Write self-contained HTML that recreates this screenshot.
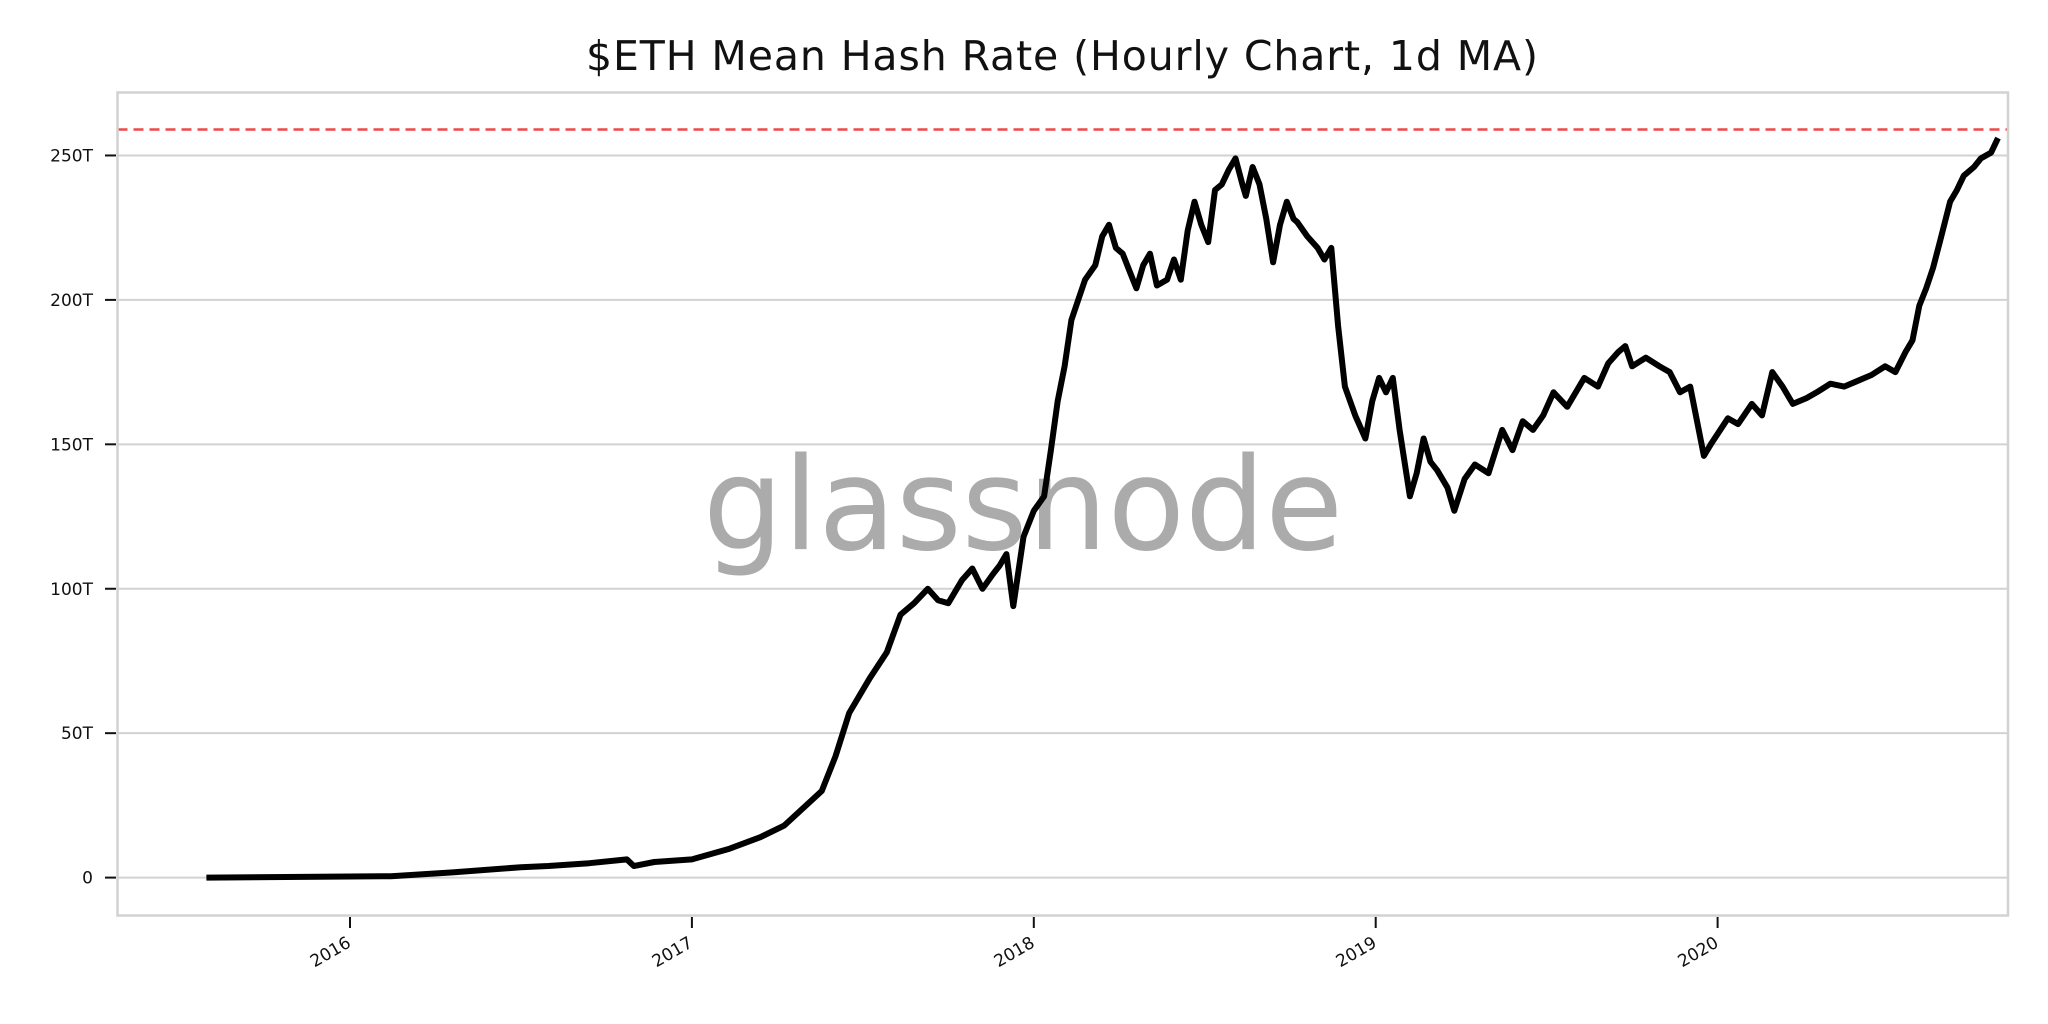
<!DOCTYPE html>
<html><head><meta charset="utf-8"><style>
html,body{margin:0;padding:0;background:#fff;}
svg{display:block;}
</style></head><body>
<svg id="chart" width="2048" height="1024" viewBox="0 0 2048 1024" xmlns="http://www.w3.org/2000/svg">
<rect x="0" y="0" width="2048" height="1024" fill="#fff"/>
<text x="1062" y="70" text-anchor="middle" font-family="DejaVu Sans, Liberation Sans, sans-serif" font-size="41" textLength="952" fill="#111">$ETH Mean Hash Rate (Hourly Chart, 1d MA)</text>
<g id="grid"></g>
<text x="1023" y="549" text-anchor="middle" font-family="DejaVu Sans, sans-serif" font-size="128" textLength="640" lengthAdjust="spacingAndGlyphs" fill="#ababab">glassnode</text>
<g id="series"></g>
<rect x="117.5" y="92.5" width="1890.5" height="823" fill="none" stroke="#d2d2d2" stroke-width="2.5"/>
<g id="axes"></g>
</svg>
<script>
const yTicks = [0, 50, 100, 150, 200, 250];
const yTickLabels = ["0", "50T", "100T", "150T", "200T", "250T"];
const xTicks = [2016, 2017, 2018, 2019, 2020];
const xTickLabels = ["2016", "2017", "2018", "2019", "2020"];
const athValue = 259;
const dates = [2015.58,2016.12,2016.3,2016.5,2016.58,2016.7,2016.81,2016.83,2016.89,2017.0,2017.11,2017.2,2017.27,2017.38,2017.42,2017.46,2017.52,2017.57,2017.61,2017.65,2017.69,2017.72,2017.75,2017.79,2017.82,2017.85,2017.88,2017.9,2017.92,2017.94,2017.97,2018.0,2018.03,2018.05,2018.07,2018.09,2018.11,2018.13,2018.15,2018.18,2018.2,2018.22,2018.24,2018.26,2018.28,2018.3,2018.32,2018.34,2018.36,2018.39,2018.41,2018.43,2018.45,2018.47,2018.49,2018.51,2018.53,2018.55,2018.57,2018.59,2018.61,2018.62,2018.64,2018.66,2018.68,2018.7,2018.72,2018.74,2018.76,2018.77,2018.8,2018.83,2018.85,2018.87,2018.89,2018.91,2018.94,2018.97,2018.99,2019.01,2019.03,2019.05,2019.07,2019.1,2019.12,2019.14,2019.16,2019.18,2019.21,2019.23,2019.26,2019.29,2019.33,2019.37,2019.4,2019.43,2019.46,2019.49,2019.52,2019.56,2019.61,2019.65,2019.68,2019.71,2019.73,2019.75,2019.79,2019.83,2019.86,2019.89,2019.92,2019.96,2019.98,2020.03,2020.06,2020.1,2020.13,2020.16,2020.19,2020.22,2020.26,2020.29,2020.33,2020.37,2020.41,2020.45,2020.49,2020.52,2020.55,2020.57,2020.59,2020.61,2020.63,2020.65,2020.68,2020.7,2020.72,2020.75,2020.77,2020.8,2020.82,2020.84];
const hashRate = [0,0.5,1.8,3.6,4,5,6.3,4,5.4,6.3,10,14,18,30,42,57,69,78,91,95,100,96,95,103,107,100,105,108,112,94,118,127,132,148,165,177,193,200,207,212,222,226,218,216,210,204,212,216,205,207,214,207,224,234,226,220,238,240,245,249,240,236,246,240,228,213,226,234,228,227,222,218,214,218,191,170,160,152,165,173,168,173,155,132,140,152,144,141,135,127,138,143,140,155,148,158,155,160,168,163,173,170,178,182,184,177,180,177,175,168,170,146,150,159,157,164,160,175,170,164,166,168,171,170,172,174,177,175,182,186,198,204,211,220,234,238,243,246,249,251,256];

const X0 = 350, PX_PER_YEAR = 341.9, Y0 = 877.6, PX_PER_T = 2.8885;
function xScale(year){ return X0 + (year - 2016) * PX_PER_YEAR; }
function yScale(v){ return Y0 - v * PX_PER_T; }
const NS = "http://www.w3.org/2000/svg";
const grid = document.getElementById('grid');
const axes = document.getElementById('axes');
const series = document.getElementById('series');

yTicks.forEach((t, i) => {
  const y = yScale(t);
  const gl = document.createElementNS(NS, 'line');
  gl.setAttribute('x1', 117.5); gl.setAttribute('x2', 2008);
  gl.setAttribute('y1', y); gl.setAttribute('y2', y);
  gl.setAttribute('stroke', '#d2d2d2'); gl.setAttribute('stroke-width', '2');
  
  
  grid.appendChild(gl);
  const tk = document.createElementNS(NS, 'line');
  tk.setAttribute('x1', 105); tk.setAttribute('x2', 116);
  tk.setAttribute('y1', y); tk.setAttribute('y2', y);
  tk.setAttribute('stroke', '#111'); tk.setAttribute('stroke-width', '2');
  
  
  axes.appendChild(tk);
  const tx = document.createElementNS(NS, 'text');
  tx.setAttribute('x', 93); tx.setAttribute('y', y + 6);
  tx.setAttribute('text-anchor', 'end');
  tx.setAttribute('font-family', 'DejaVu Sans, Liberation Sans, sans-serif');
  tx.setAttribute('font-size', '17');
  tx.setAttribute('fill', '#111');
  
  
  tx.textContent = yTickLabels[i];
  axes.appendChild(tx);
});

xTicks.forEach((t, i) => {
  const x = xScale(t);
  const tk = document.createElementNS(NS, 'line');
  tk.setAttribute('x1', x); tk.setAttribute('x2', x);
  tk.setAttribute('y1', 917); tk.setAttribute('y2', 928);
  tk.setAttribute('stroke', '#111'); tk.setAttribute('stroke-width', '2');
  
  
  axes.appendChild(tk);
  const tx = document.createElementNS(NS, 'text');
  tx.setAttribute('x', x + 2); tx.setAttribute('y', 946);
  tx.setAttribute('text-anchor', 'end');
  tx.setAttribute('transform', 'rotate(-30 ' + (x + 2) + ' 946)');
  tx.setAttribute('font-family', 'DejaVu Sans, Liberation Sans, sans-serif');
  tx.setAttribute('font-size', '17');
  tx.setAttribute('fill', '#111');
  
  
  tx.textContent = xTickLabels[i];
  axes.appendChild(tx);
});

const ath = document.createElementNS(NS, 'line');
ath.setAttribute('x1', 117.5); ath.setAttribute('x2', 2008);
ath.setAttribute('y1', yScale(athValue)); ath.setAttribute('y2', yScale(athValue));
ath.setAttribute('stroke', '#f04848'); ath.setAttribute('stroke-width', '2.5');
ath.setAttribute('stroke-dasharray', '10 6');


series.appendChild(ath);

let d = '';
dates.forEach((dt, i) => { d += (i ? 'L' : 'M') + xScale(dt).toFixed(1) + ',' + yScale(hashRate[i]).toFixed(1); });
const path = document.createElementNS(NS, 'path');
path.setAttribute('d', d);
path.setAttribute('fill', 'none');
path.setAttribute('stroke', '#000');
path.setAttribute('stroke-width', '6');
path.setAttribute('stroke-linejoin', 'round');


series.appendChild(path);
</script>
</body></html>
